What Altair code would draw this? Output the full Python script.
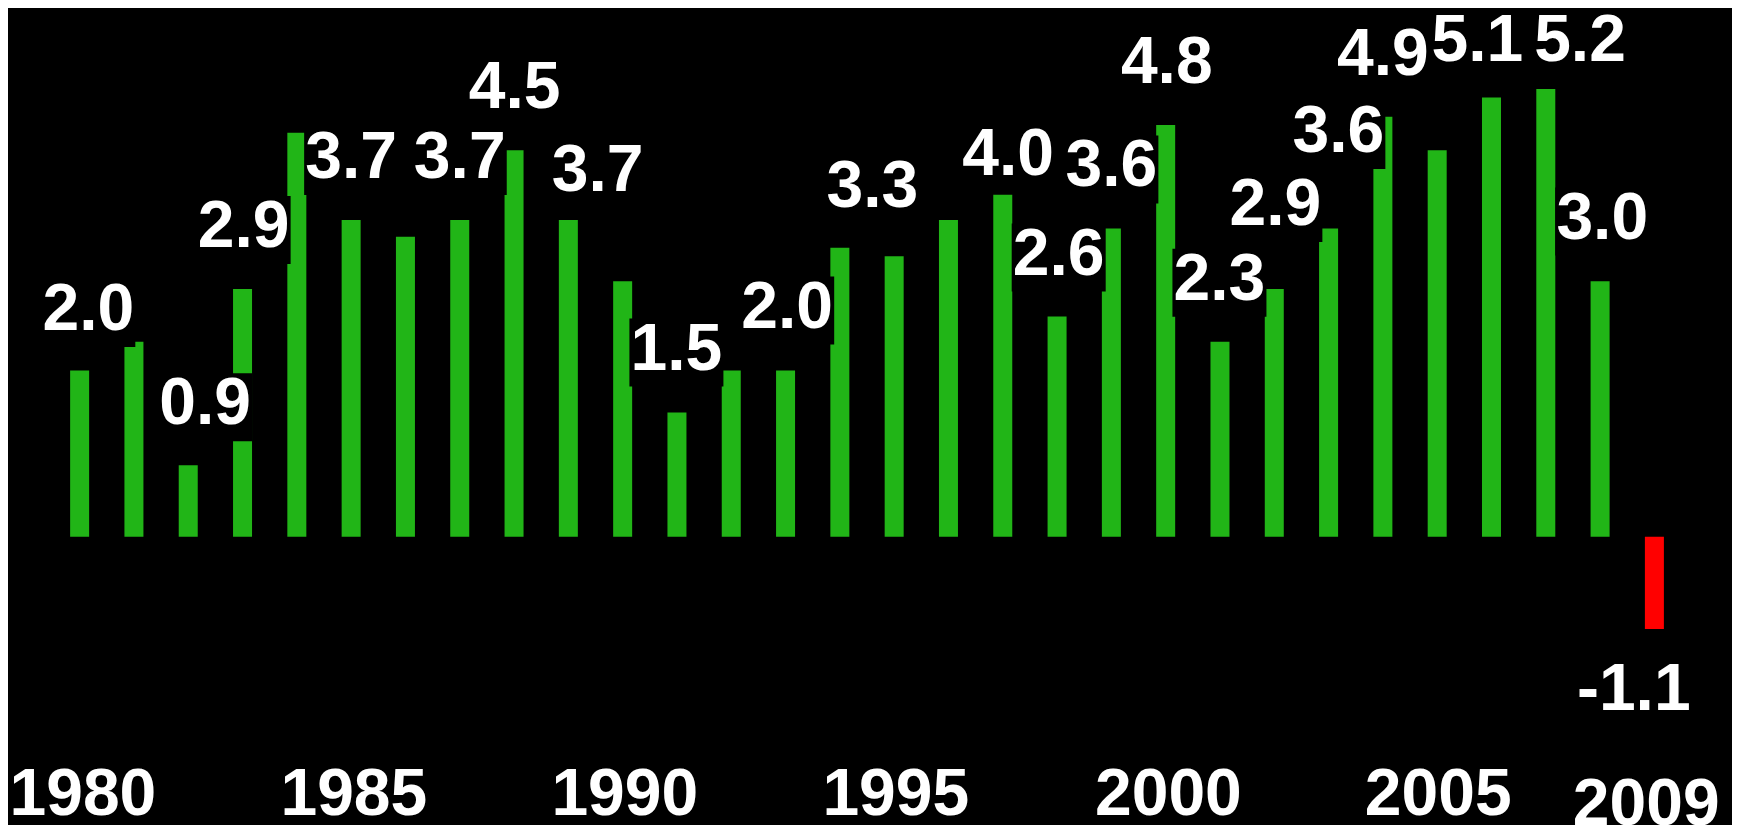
import altair as alt
import pandas as pd

# ---- data ----
years = list(range(1980, 2010))
growth = [1.98, 2.32, 0.85, 2.95, 4.81, 3.77, 3.57, 3.77, 4.60, 3.77,
          3.04, 1.48, 1.98, 1.98, 3.44, 3.34, 3.77, 4.07, 2.62, 3.67,
          4.90, 2.32, 2.95, 3.67, 5.00, 4.60, 5.23, 5.33, 3.04, -1.10]

label_text = ["2.0", "0.9", "2.9", "3.7", "3.7", "4.5", "3.7", "1.5", "2.0", "3.3", "4.0",
              "2.6", "3.6", "4.8", "2.3", "2.9", "3.6", "4.9", "5.1", "5.2", "3.0", "-1.1"]
# annotation anchor of each label, in data units (year, growth level)
label_year = [1980.16, 1982.31, 1983.02, 1985.00, 1987.00, 1988.01, 1989.54, 1990.99, 1993.03,
              1994.60, 1997.10, 1998.03, 1999.00, 2000.02, 2000.99, 2002.02, 2003.18, 2004.00,
              2005.74, 2007.63, 2008.04, 2008.62]
label_level = [2.46, 1.34, 3.45, 4.27, 4.27, 5.10, 4.11, 1.99, 2.49, 3.93, 4.31,
               3.12, 4.17, 5.40, 2.82, 3.71, 4.58, 5.50, 5.66, 5.66, 3.55, -2.06]

# year tick labels along the bottom (anchor in data units)
tick_years = [1980, 1985, 1990, 1995, 2000, 2005, 2009]
tick_label_year = [1980.06, 1985.05, 1990.04, 1995.03, 2000.05, 2005.02, 2008.85]
tick_label_level = [-3.31, -3.31, -3.31, -3.31, -3.31, -3.31, -3.43]

FONT = "Liberation Sans, Arial, Helvetica, sans-serif"

bars_df = pd.DataFrame({"year": years, "growth": growth})
labels_df = pd.DataFrame({"text": label_text, "year": label_year, "level": label_level})
ticks_df = pd.DataFrame({"text": [str(y) for y in tick_years],
                         "year": tick_label_year, "level": tick_label_level})

x_scale = alt.Scale(domain=[1978.773, 2010.337], nice=False, zero=False)
y_scale = alt.Scale(domain=[-3.432, 6.294], nice=False, zero=False)

bars = alt.Chart(bars_df).mark_bar(size=19, orient="vertical").encode(
    x=alt.X("year:Q", scale=x_scale, axis=None),
    y=alt.Y("growth:Q", scale=y_scale, axis=None),
    y2=alt.datum(0),
    color=alt.condition("datum.growth < 0", alt.value("#FF0000"), alt.value("#21B517")),
)

boxes = alt.Chart(labels_df).mark_point(
    shape="M-47,-51L47,-51L47,17L-47,17Z", size=4, filled=True,
    color="black", opacity=1, strokeWidth=0,
).encode(
    x=alt.X("year:Q", scale=x_scale, axis=None),
    y=alt.Y("level:Q", scale=y_scale, axis=None),
)

texts = alt.Chart(labels_df).mark_text(
    font=FONT, fontSize=66, fontWeight="bold", color="white",
    align="center", baseline="alphabetic",
).encode(
    x=alt.X("year:Q", scale=x_scale, axis=None),
    y=alt.Y("level:Q", scale=y_scale, axis=None),
    text="text:N",
)

year_labels = alt.Chart(ticks_df).mark_text(
    font=FONT, fontSize=66, fontWeight="bold", color="white",
    align="center", baseline="alphabetic",
).encode(
    x=alt.X("year:Q", scale=x_scale, axis=None),
    y=alt.Y("level:Q", scale=y_scale, axis=None),
    text="text:N",
)

chart = alt.layer(bars, boxes, texts, year_labels).properties(
    width=1724, height=817,
    autosize=alt.AutoSizeParams(type="none"),
    padding=0,
    background="black",
).configure_view(stroke=None)

chart.save("out.html", embed_options={"renderer": "svg", "actions": False})
